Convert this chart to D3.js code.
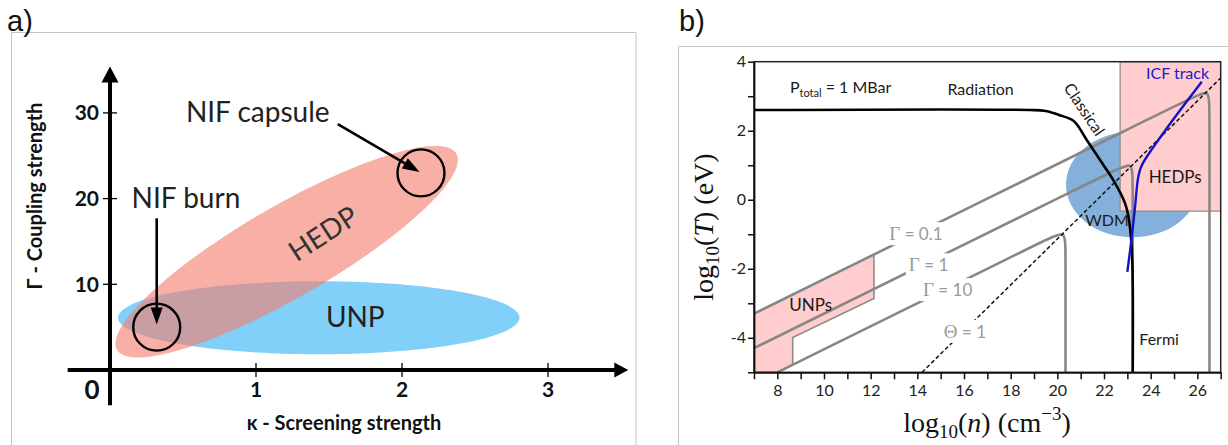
<!DOCTYPE html>
<html>
<head>
<meta charset="utf-8">
<script src="https://cdn.jsdelivr.net/npm/d3@7"></script>
<style>
  html, body { margin: 0; padding: 0; background: #fff; }
  svg { display: block; }
</style>
</head>
<body>
<svg id="fig" width="1228" height="445"></svg>
<script>
// ---------------- panel (a): coupling vs screening ----------------
const kappaTicks = [1, 2, 3];
const gammaTicks = [10, 20, 30];
const kappaAxisSpan = [-0.29, 3.55];
const gammaAxisSpan = [-4.1, 35.4];
// regions: centre (kappa, Gamma) + two conjugate semi-axis vectors (data units)
const unpCentre = [1.43, 6.1];
const unpAxes = [[1.375, 0], [0, 4.26]];
const hedpCentre = [1.21, 13.8];
const hedpAxes = [[1.162, 11.44], [0.157, -4.62]];
// NIF conditions
const nifNames = ["NIF burn", "NIF capsule"];
const nifKappa = [0.32, 2.13];
const nifGamma = [5.0, 23.0];
const nifArrowFrom = [[0.32, 17.7], [1.56, 28.7]];
const nifArrowTo = [[0.32, 5.3], [2.12, 23.1]];
const nifLabelAt = [[0.148, 18.87], [0.52, 28.97]];

// ---------------- panel (b): density-temperature plane ----------------
const densityTicks = d3.range(7, 28);
const densityLabels = [8, 10, 12, 14, 16, 18, 20, 22, 24, 26];
const tempTicks = d3.range(-5, 5);
const tempLabels = [-4, -2, 0, 2, 4];
const pressureCurve = [[7, 2.6], [18.8, 2.6], [19.5, 2.57], [20.1, 2.45], [20.7, 2.28],
  [21.26, 1.73], [21.83, 1.15], [22.4, 0.57], [22.9, -0.1], [23.05, -0.5],
  [23.15, -1.07], [23.22, -2.0], [23.23, -5]];
const gamma01Line = [[7, -3.3], [25.9, 3.0], [26.52, 3.21], [26.52, 2.6], [26.52, -5]];
const gamma1Line = [[7, -4.3], [22.6, 0.9], [23.23, 1.11], [23.23, 0.5], [23.23, -5]];
const gamma10Line = [[8, -5], [19.7, -1.1], [20.35, -0.88], [20.35, -1.5], [20.35, -5]];
const thetaOneLine = [[14.2, -5], [27, 3.53]];
const icfTrack = [[26.19, 3.42], [24.69, 2.07], [23.62, 1.0], [23.47, 0.67],
  [23.33, -0.2], [23.19, -1.07], [23.0, -2.09]];
const wdmCentre = [23.22, 0.44];
const wdmRadii = [2.85, 1.53];
const hedpBox = [[22.69, -0.33], [27, 4]];
const unpOutline = [[7, -3.3], [12.14, -1.59], [12.14, -2.86], [8.66, -3.99],
  [8.66, -4.78], [8, -5], [7, -5]];

const svg = d3.select("#fig");
const sans = "Lato, 'Open Sans', sans-serif";
const serif = "'Liberation Serif', 'DejaVu Serif', serif";

// panel frames and letters
const frames = svg.append("g").attr("fill", "none").attr("stroke", "#c4c4c4").attr("stroke-width", 1);
frames.append("path").attr("d", "M11.5,446 V32.5 H636 V446");
frames.append("path").attr("d", "M678.5,446 V46.5 H1230");
svg.append("text").attr("x", 7).attr("y", 31).attr("font-family", "'Liberation Sans', sans-serif")
  .attr("font-size", 29).attr("fill", "#111").text("a)");
svg.append("text").attr("x", 679).attr("y", 31).attr("font-family", "'Liberation Sans', sans-serif")
  .attr("font-size", 29).attr("fill", "#111").text("b)");

// ======================= panel (a) =======================
const xa = d3.scaleLinear().domain([0, 3]).range([110, 548]);
const ya = d3.scaleLinear().domain([0, 30]).range([370, 112.9]);
const ga = svg.append("g");

function ellipsePoints(c, axes) {
  return d3.range(0, 360, 2).map(deg => {
    const t = deg * Math.PI / 180;
    return [c[0] + Math.cos(t) * axes[0][0] + Math.sin(t) * axes[1][0],
            c[1] + Math.cos(t) * axes[0][1] + Math.sin(t) * axes[1][1]];
  });
}
const closedA = d3.line().x(d => xa(d[0])).y(d => ya(d[1])).curve(d3.curveLinearClosed);

ga.append("path").attr("d", closedA(ellipsePoints(unpCentre, unpAxes)))
  .attr("fill", "#82cffa");
ga.append("path").attr("d", closedA(ellipsePoints(hedpCentre, hedpAxes)))
  .attr("fill", "rgb(244,128,112)").attr("fill-opacity", 0.62);

ga.append("text").attr("x", xa(1.68)).attr("y", ya(6.15)).attr("dy", "0.35em")
  .attr("text-anchor", "middle").attr("font-family", sans).attr("font-size", 28)
  .attr("fill", "#222").text("UNP");
ga.append("text")
  .attr("transform", `translate(${xa(1.46)},${ya(15.9)}) rotate(-33)`)
  .attr("dy", "0.35em").attr("text-anchor", "middle").attr("font-family", sans)
  .attr("font-size", 28).attr("fill", "#333").text("HEDP");

// axes with arrow heads
const axisA = ga.append("g").attr("stroke", "#000");
axisA.append("line").attr("x1", xa(0)).attr("x2", xa(0))
  .attr("y1", ya(gammaAxisSpan[0])).attr("y2", ya(gammaAxisSpan[1]) + 12)
  .attr("stroke-width", 4);
axisA.append("line").attr("y1", ya(0)).attr("y2", ya(0))
  .attr("x1", xa(kappaAxisSpan[0])).attr("x2", xa(kappaAxisSpan[1]) - 10)
  .attr("stroke-width", 4);
const yTip = [xa(0), ya(gammaAxisSpan[1])];
const xTip = [xa(kappaAxisSpan[1]), ya(0)];
ga.append("path").attr("fill", "#000")
  .attr("d", `M${yTip[0]},${yTip[1]} L${yTip[0] + 8.5},${yTip[1] + 16} L${yTip[0] - 8.5},${yTip[1] + 16} Z`);
ga.append("path").attr("fill", "#000")
  .attr("d", `M${xTip[0]},${xTip[1]} L${xTip[0] - 14},${xTip[1] - 7.5} L${xTip[0] - 14},${xTip[1] + 7.5} Z`);

// ticks
ga.append("g").selectAll("line").data(kappaTicks).join("line")
  .attr("x1", d => xa(d)).attr("x2", d => xa(d)).attr("y1", ya(0) - 7).attr("y2", ya(0) + 7)
  .attr("stroke", "#000").attr("stroke-width", 1.3);
ga.append("g").selectAll("line").data(gammaTicks).join("line")
  .attr("y1", d => ya(d)).attr("y2", d => ya(d)).attr("x1", xa(0) - 7).attr("x2", xa(0) + 7)
  .attr("stroke", "#000").attr("stroke-width", 1.3);
ga.append("g").selectAll("text").data(kappaTicks).join("text")
  .attr("x", d => xa(d)).attr("y", ya(0) + 20).attr("dy", "0.35em")
  .attr("text-anchor", "middle").attr("font-family", sans).attr("font-weight", 700)
  .attr("font-size", 21).attr("fill", "#111").text(d => d);
ga.append("g").selectAll("text").data(gammaTicks).join("text")
  .attr("x", xa(0) - 11).attr("y", d => ya(d)).attr("dy", "0.35em")
  .attr("text-anchor", "end").attr("font-family", sans).attr("font-weight", 700)
  .attr("font-size", 21).attr("fill", "#111").text(d => d);
ga.append("text").attr("x", xa(0) - 18).attr("y", ya(0) + 20).attr("dy", "0.35em")
  .attr("text-anchor", "middle").attr("font-family", sans).attr("font-weight", 700)
  .attr("font-size", 26).attr("fill", "#111").text("0");

// axis titles
ga.append("text").attr("x", 344).attr("y", 430).attr("text-anchor", "middle")
  .attr("font-family", sans).attr("font-weight", 700).attr("font-size", 20)
  .attr("fill", "#111").text("κ - Screening strength");
ga.append("text").attr("transform", "translate(42,196) rotate(-90)")
  .attr("text-anchor", "middle").attr("font-family", sans).attr("font-weight", 700)
  .attr("font-size", 20).attr("fill", "#111").text("Γ - Coupling strength");

// NIF circles, arrows, labels
ga.append("g").selectAll("circle").data(nifNames).join("circle")
  .attr("cx", (d, i) => xa(nifKappa[i])).attr("cy", (d, i) => ya(nifGamma[i]))
  .attr("r", 23.5).attr("fill", "none").attr("stroke", "#000").attr("stroke-width", 2.4);
nifNames.forEach((name, i) => {
  const x1 = xa(nifArrowFrom[i][0]), y1 = ya(nifArrowFrom[i][1]);
  const x2 = xa(nifArrowTo[i][0]), y2 = ya(nifArrowTo[i][1]);
  const len = Math.hypot(x2 - x1, y2 - y1), ux = (x2 - x1) / len, uy = (y2 - y1) / len;
  const hl = 17, hw = 6;
  const bx = x2 - ux * hl, by = y2 - uy * hl;
  ga.append("line").attr("x1", x1).attr("y1", y1).attr("x2", bx + ux * 2).attr("y2", by + uy * 2)
    .attr("stroke", "#000").attr("stroke-width", 2.6);
  ga.append("path").attr("fill", "#000")
    .attr("d", `M${x2},${y2} L${bx - uy * hw},${by + ux * hw} L${bx + uy * hw},${by - ux * hw} Z`);
  ga.append("text").attr("x", xa(nifLabelAt[i][0])).attr("y", ya(nifLabelAt[i][1]))
    .attr("font-family", sans).attr("font-size", 28).attr("fill", "#222").text(name);
});

// ======================= panel (b) =======================
const xb = d3.scaleLinear().domain([7, 27]).range([754, 1220.7]);
const yb = d3.scaleLinear().domain([-5, 4]).range([372.3, 61.7]);
const gb = svg.append("g");
const lineB = d3.line().x(d => xb(d[0])).y(d => yb(d[1]));

gb.append("defs").append("clipPath").attr("id", "plotB").append("rect")
  .attr("x", xb(7)).attr("y", yb(4)).attr("width", xb(27) - xb(7)).attr("height", yb(-5) - yb(4));
const plot = gb.append("g").attr("clip-path", "url(#plotB)");
const labels = gb.append("g");

// WDM region
plot.append("ellipse").attr("cx", xb(wdmCentre[0])).attr("cy", yb(wdmCentre[1]))
  .attr("rx", xb(wdmCentre[0] + wdmRadii[0]) - xb(wdmCentre[0]))
  .attr("ry", yb(wdmCentre[1] - wdmRadii[1]) - yb(wdmCentre[1]))
  .attr("fill", "#85b0dc");
// HEDP box
plot.append("rect").attr("x", xb(hedpBox[0][0])).attr("y", yb(hedpBox[1][1]))
  .attr("width", xb(hedpBox[1][0]) - xb(hedpBox[0][0]))
  .attr("height", yb(hedpBox[0][1]) - yb(hedpBox[1][1]))
  .attr("fill", "#ffcdcd").attr("stroke", "#8c8c8c").attr("stroke-width", 1.2);
// UNP region
plot.append("path").attr("d", lineB(unpOutline) + "Z")
  .attr("fill", "#ffcdcd").attr("stroke", "#8c8c8c").attr("stroke-width", 1.6);

// constant-Gamma lines
const roundedLine = d3.line().x(d => xb(d[0])).y(d => yb(d[1])).curve(d3.curveBasis);
plot.append("g").selectAll("path").data([gamma01Line, gamma1Line, gamma10Line]).join("path")
  .attr("d", d => roundedLine(d)).attr("fill", "none")
  .attr("stroke", "#878787").attr("stroke-width", 2.6);
// Theta = 1
plot.append("path").attr("d", lineB(thetaOneLine)).attr("fill", "none")
  .attr("stroke", "#111").attr("stroke-width", 1.5).attr("stroke-dasharray", "4,2.5");
// P = 1 Mbar boundary
plot.append("path").attr("d", d3.line().x(d => xb(d[0])).y(d => yb(d[1]))
    .curve(d3.curveCatmullRom.alpha(0.5))(pressureCurve))
  .attr("fill", "none").attr("stroke", "#000").attr("stroke-width", 2.6);
// ICF track
plot.append("path").attr("d", d3.line().x(d => xb(d[0])).y(d => yb(d[1]))
    .curve(d3.curveCatmullRom.alpha(0.5))(icfTrack))
  .attr("fill", "none").attr("stroke", "#1212cc").attr("stroke-width", 2.4);

// grey labels sitting in gaps of the lines they name
function gapLabel(x, y, parts) {
  const g = labels.append("g");
  const t = g.append("text").attr("x", xb(x)).attr("y", yb(y)).attr("dy", "0.35em")
    .attr("text-anchor", "middle").attr("font-size", 17).attr("fill", "#9a9a9a");
  t.append("tspan").attr("font-family", serif).attr("font-size", 19).text(parts[0]);
  t.append("tspan").attr("font-family", sans).text(parts[1]);
  const bb = t.node().getBBox();
  g.insert("rect", "text").attr("x", bb.x - 3).attr("y", bb.y - 1)
    .attr("width", bb.width + 6).attr("height", bb.height + 2).attr("fill", "#fff");
}
gapLabel(13.94, -1.0, ["Γ", " = 0.1"]);
gapLabel(14.48, -1.9, ["Γ", " = 1"]);
gapLabel(15.3, -2.62, ["Γ", " = 10"]);
gapLabel(16.04, -3.83, ["Θ", " = 1"]);

// dark labels
function label(x, y, txt, opts = {}) {
  return labels.append("text").attr("x", xb(x)).attr("y", yb(y)).attr("dy", "0.35em")
    .attr("text-anchor", "middle").attr("font-family", sans).attr("font-size", opts.size || 16)
    .attr("fill", opts.color || "#1a1a1a").text(txt);
}
label(16.71, 3.21, "Radiation");
label(22.13, -0.59, "WDM");
label(25.05, 0.67, "HEDPs", { size: 17 });
label(25.15, 3.66, "ICF track", { color: "#1a1acc" });
label(24.36, -4.04, "Fermi");
label(9.43, -3.05, "UNPs", { size: 17 });
labels.append("text").attr("transform", `translate(${xb(21.15)},${yb(2.62)}) rotate(56)`)
  .attr("dy", "0.35em").attr("text-anchor", "middle").attr("font-family", sans)
  .attr("font-size", 16).attr("fill", "#1a1a1a").text("Classical");
const ptot = labels.append("text").attr("x", xb(8.54)).attr("y", yb(3.08))
  .attr("font-family", sans).attr("font-size", 16).attr("fill", "#1a1a1a");
ptot.append("tspan").text("P");
ptot.append("tspan").attr("font-size", 11).attr("dy", 4).text("total");
ptot.append("tspan").attr("dy", -4).text(" = 1 MBar");

// plot frame
gb.append("rect").attr("x", xb(7)).attr("y", yb(4)).attr("width", xb(27) - xb(7))
  .attr("height", yb(-5) - yb(4)).attr("fill", "none").attr("stroke", "#222").attr("stroke-width", 1.5);

// axes
const xAxisB = d3.axisBottom(xb).tickValues(densityTicks).tickSize(7).tickSizeOuter(0)
  .tickFormat(d => densityLabels.includes(d) ? d : "");
const yAxisB = d3.axisLeft(yb).tickValues(tempTicks).tickSize(6).tickSizeOuter(0)
  .tickFormat(d => tempLabels.includes(d) ? String(d).replace("−", "-") : "");
const axB = gb.append("g").attr("transform", `translate(0,${yb(-5)})`).call(xAxisB);
const ayB = gb.append("g").attr("transform", `translate(${xb(7)},0)`).call(yAxisB);
[axB, ayB].forEach(a => {
  a.select(".domain").attr("stroke", "#111").attr("stroke-width", 1.8);
  a.selectAll(".tick line").attr("stroke", "#111").attr("stroke-width", 1.5);
  a.selectAll(".tick text").attr("font-family", sans).attr("font-size", 16).attr("fill", "#222");
});
axB.selectAll(".tick text").attr("dy", "0.85em").attr("y", 10);
ayB.selectAll(".tick text").attr("x", -8);

// axis titles (LaTeX-like)
const xt = gb.append("text").attr("x", 987).attr("y", 432).attr("text-anchor", "middle")
  .attr("font-family", serif).attr("font-size", 28).attr("fill", "#111");
xt.append("tspan").text("log");
xt.append("tspan").attr("font-size", 19).attr("dy", 6).text("10");
xt.append("tspan").attr("dy", -6).text("(");
xt.append("tspan").attr("font-style", "italic").text("n");
xt.append("tspan").text(")  (cm");
xt.append("tspan").attr("font-size", 19).attr("dy", -12).text("−3");
xt.append("tspan").attr("dy", 12).text(")");

const yt = gb.append("text").attr("transform", "translate(713,227) rotate(-90)")
  .attr("text-anchor", "middle").attr("font-family", serif).attr("font-size", 28).attr("fill", "#111");
yt.append("tspan").text("log");
yt.append("tspan").attr("font-size", 19).attr("dy", 6).text("10");
yt.append("tspan").attr("dy", -6).text("(");
yt.append("tspan").attr("font-style", "italic").text("T");
yt.append("tspan").text(")  (eV)");
</script>
</body>
</html>
